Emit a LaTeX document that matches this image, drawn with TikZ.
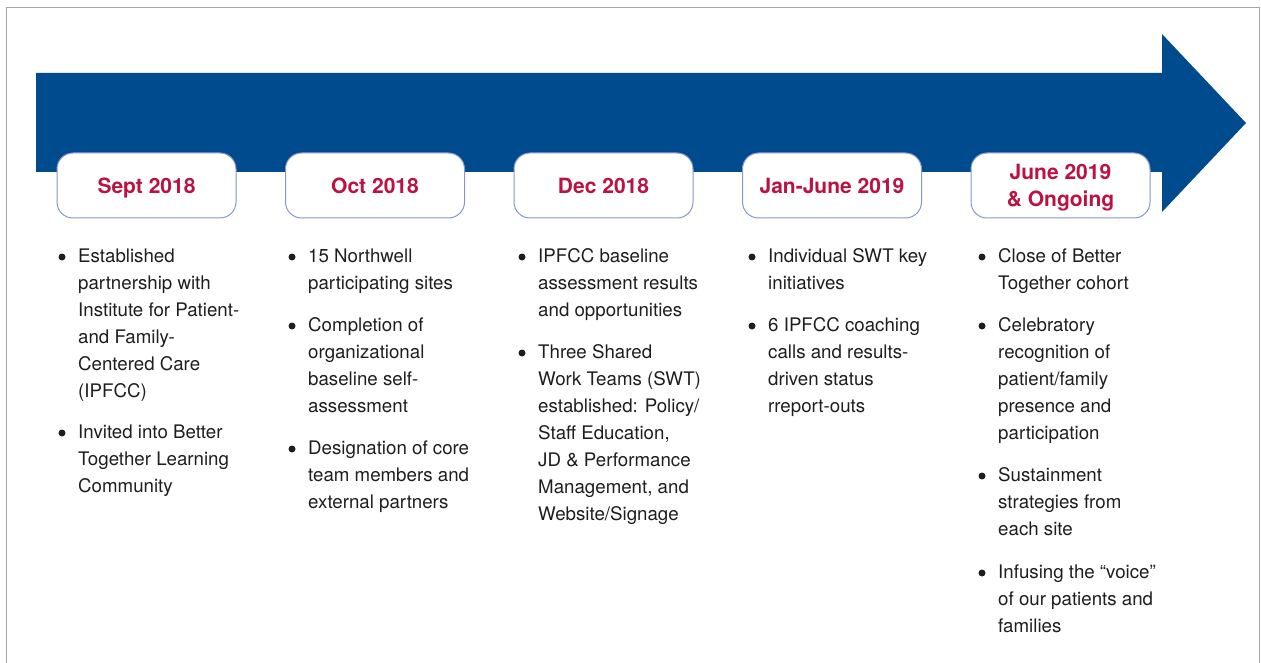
\documentclass[tikz,border=0pt]{standalone}
\usepackage{fontspec}
\setmainfont{TeX Gyre Heros}
\usepackage{tikz}

\definecolor{arrowblue}{RGB}{0,75,141}
\definecolor{datered}{RGB}{186,18,66}
\definecolor{boxline}{RGB}{135,150,205}
\definecolor{framegray}{RGB}{165,165,165}
\definecolor{bodytext}{RGB}{30,30,30}

\begin{document}
\begin{tikzpicture}
  [x=1pt,y=-1pt,
   datebox/.style={draw=boxline,line width=1pt,fill=white,rounded corners=16pt,
     minimum width=179pt,minimum height=65pt,align=center,text=datered,
     text depth=0pt,font=\fontsize{21pt}{27pt}\selectfont\bfseries},
   item/.style={anchor=north west,inner sep=0pt,align=left,text=bodytext,
     font=\fontsize{18.7pt}{27pt}\selectfont},
   dot/.style={circle,fill=bodytext,inner sep=0pt,minimum size=7pt}]
  \useasboundingbox (0,0) rectangle (1261,663);

  % outer frame, open at the bottom
  \draw[framegray,line width=1.3pt] (6.5,663) |- (1259.5,7.5) -- (1259.5,663);

  % the time arrow
  \fill[arrowblue] (36,73) -- (1162,73) -- (1162,34) -- (1246,123)
    -- (1162,212) -- (1162,172) -- (36,172) -- cycle;

  % dates
  \node[datebox] (sep) at (146.5,185.5) {Sept 2018};
  \node[datebox] (oct) at (375,185.5)   {Oct 2018};
  \node[datebox] (dec) at (603.5,185.5) {Dec 2018};
  \node[datebox] (jan) at (832,185.5)   {Jan-June 2019};
  \node[datebox] (jun) at (1060.5,185.5) {June 2019\\\& Ongoing};

  % bullet points under each date
  \foreach \name/\x/\y/\txt in {
    a1/78/248.5/{Established\\partnership with\\Institute for Patient-\\and Family-\\Centered Care\\(IPFCC)},
    a2/78/424.5/{Invited into Better\\Together Learning\\Community},
    b1/308/248.5/{15 Northwell\\participating sites},
    b2/308/317.5/{Completion of\\organizational\\baseline self-\\assessment},
    b3/308/440.5/{Designation of core\\team members and\\external partners},
    c1/538/248.5/{IPFCC baseline\\assessment results\\and opportunities},
    c2/538/344.5/{Three Shared\\Work Teams (SWT)\\established: Policy/\\Staff Education,\\JD \& Performance\\Management, and\\Website/Signage},
    d1/768/248.5/{Individual SWT key\\initiatives},
    d2/768/317.5/{6 IPFCC coaching\\calls and results-\\driven status\\rreport-outs},
    e1/998/248.5/{Close of Better\\Together cohort},
    e2/998/317.5/{Celebratory\\recognition of\\patient/family\\presence and\\participation},
    e3/998/467.5/{Sustainment\\strategies from\\each site},
    e4/998/564.5/{Infusing the “voice”\\of our patients and\\families}}
  {
    \node[item] (\name) at (\x,\y) {\txt};
    \node[dot] (dot\name) at ([xshift=-16pt,yshift=-8.5pt]\name.north west) {};
  }
\end{tikzpicture}
\end{document}
